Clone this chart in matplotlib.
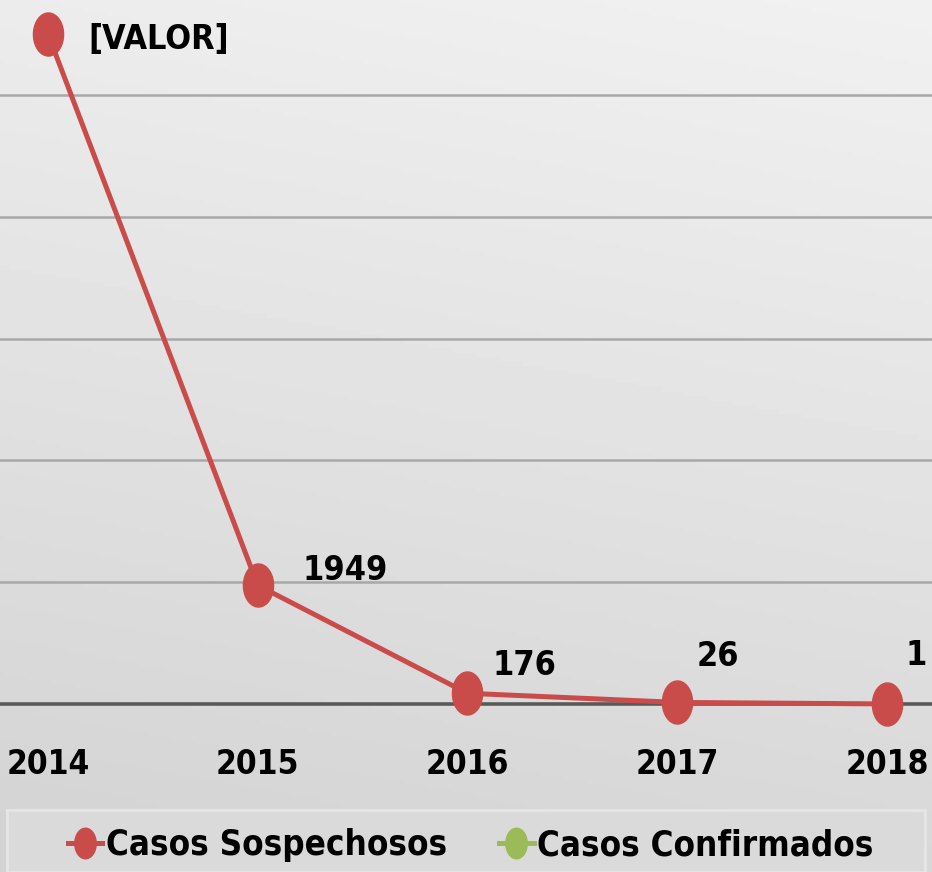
import numpy as np
import matplotlib
matplotlib.use("Agg")
import matplotlib.pyplot as plt
from matplotlib.path import Path
from matplotlib.lines import Line2D
from matplotlib.patches import Rectangle

# ---- data ----
years = ["2014", "2015", "2016", "2017", "2018"]
sospechosos = [11000, 1949, 176, 26, 1]
labels_sosp = ["[VALOR]", "1949", "176", "26", "1"]
series_names = ["Casos Sospechosos", "Casos Confirmados"]
grid_values = [0, 2000, 4000, 6000, 8000, 10000]

# ---- style ----
RED = "#c94c4a"
GREEN = "#9bbb59"
FONT = ["DejaVu Sans", "Liberation Sans"]
label_offsets = [(29, -4), (32, 11), (18, 20), (14, 33), (13, 35)]  # points

plt.rcParams["font.family"] = FONT
plt.rcParams["font.stretch"] = "condensed"

W, H = 932, 872
fig = plt.figure(figsize=(W / 100, H / 100), dpi=100)

# background gradient
bg = fig.add_axes([0, 0, 1, 1], zorder=-10)
yy, xx = np.mgrid[0:1:200j, 0:1:200j]
shade = 0.825 + 0.10 * (1 - yy) + 0.02 * xx
bg.imshow(shade, cmap="gray", vmin=0, vmax=1, extent=[0, 1, 0, 1],
          aspect="auto", origin="upper")
bg.set_axis_off()

ax_bottom = (H - 704) / H
ax = fig.add_axes([0, ax_bottom, 1, 704 / H])
ax.patch.set_alpha(0)
x = np.arange(len(years))
ax.set_xlim(-48 / 209.75, 4 + 45 / 209.75)
ax.set_ylim(0, 10000 + 95 / 121.8 * 2000)

for g in grid_values:
    if g == 0:
        ax.axhline(g, color="#595959", lw=2.6, zorder=1, clip_on=False)
    else:
        ax.axhline(g, color="#a8a8a8", lw=1.8, zorder=1)

# ellipse marker (taller than wide)
t = np.linspace(0, 2 * np.pi, 60)
ell = Path(np.column_stack([0.7 * np.cos(t), np.sin(t)]), closed=True)

ax.plot(x, sospechosos, color=RED, lw=3.6, marker=ell, markersize=31,
        markerfacecolor=RED, markeredgecolor=RED, zorder=3, clip_on=False)

for xi, yi, lab, off in zip(x, sospechosos, labels_sosp, label_offsets):
    ax.annotate(lab, (xi, yi), xytext=off, textcoords="offset points",
                ha="left", va="center", fontsize=24.5, fontweight="bold",
                fontstretch="condensed", color="black", zorder=4,
                annotation_clip=False)

ax.set_xticks(x)
ax.set_xticklabels(years, fontsize=24, fontweight="bold", fontstretch="condensed")
ax.tick_params(axis="x", length=0, pad=32)
ax.set_yticks([])
for s in ax.spines.values():
    s.set_visible(False)

# legend box
fig.patches.append(Rectangle((7 / W, 0), (925 - 7) / W, (872 - 810) / H,
                             transform=fig.transFigure, facecolor="#dadada",
                             edgecolor="#e6e6e6", lw=2, zorder=-5))
handles = [
    Line2D([], [], color=RED, lw=3.6, marker=ell, markersize=22,
           markerfacecolor=RED, markeredgecolor=RED),
    Line2D([], [], color=GREEN, lw=3.6, marker=ell, markersize=22,
           markerfacecolor=GREEN, markeredgecolor=GREEN),
]
fig.legend(handles, series_names, loc="center", bbox_to_anchor=(0.505, 1 - 845 / H),
           ncol=2, frameon=False,
           prop={"size": 25, "weight": "bold", "family": FONT, "stretch": "condensed"},
           handlelength=1.0, handletextpad=0.1, columnspacing=1.5)

fig.savefig("out.png", dpi=100)
